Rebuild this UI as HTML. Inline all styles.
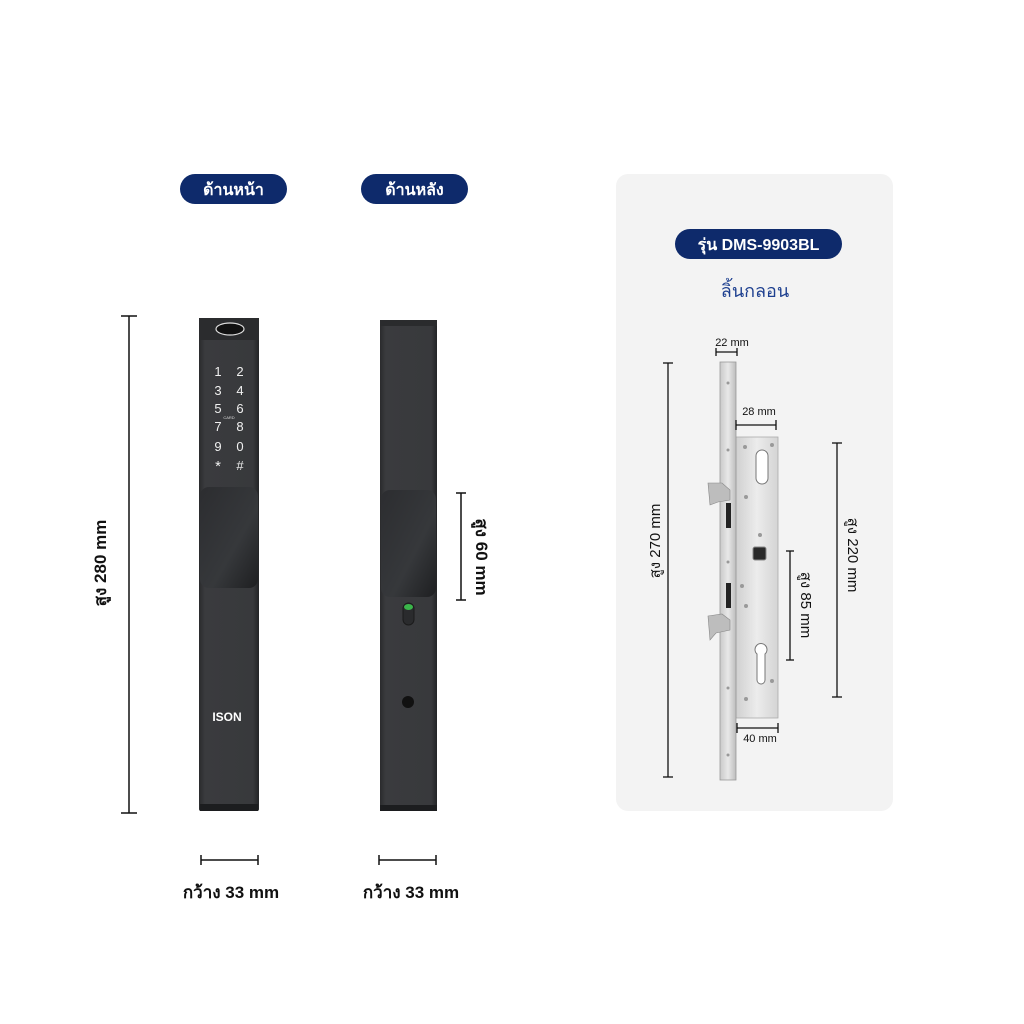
<!DOCTYPE html>
<html><head><meta charset="utf-8"><style>
html,body{margin:0;padding:0;background:#fff;width:1024px;height:1024px;overflow:hidden}
svg{display:block}
text{font-family:"Liberation Sans","DejaVu Sans",sans-serif}
</style></head><body>
<svg width="1024" height="1024" viewBox="0 0 1024 1024" xmlns="http://www.w3.org/2000/svg">
<defs>
<linearGradient id="bd" x1="0" x2="1"><stop offset="0" stop-color="#2a2b2d"/><stop offset="0.1" stop-color="#3a3b3e"/><stop offset="0.9" stop-color="#38393c"/><stop offset="1" stop-color="#232426"/></linearGradient>
<linearGradient id="hd" x1="0" y1="0" x2="1" y2="1"><stop offset="0" stop-color="#2c2d30"/><stop offset="0.6" stop-color="#36383b"/><stop offset="1" stop-color="#1e1f21"/></linearGradient>
<linearGradient id="st" x1="0" x2="1"><stop offset="0" stop-color="#c9c9c9"/><stop offset="0.5" stop-color="#e8e8e8"/><stop offset="1" stop-color="#bdbdbd"/></linearGradient>
<linearGradient id="cs" x1="0" x2="1"><stop offset="0" stop-color="#d0d0d0"/><stop offset="0.5" stop-color="#ececec"/><stop offset="1" stop-color="#d4d4d4"/></linearGradient>
</defs>
<!-- pills -->
<rect x="180" y="174" width="107" height="30" rx="15" fill="#0e2a6b"/>
<text x="233.5" y="195" font-size="16" font-weight="bold" fill="#fff" text-anchor="middle">ด้านหน้า</text>
<rect x="361" y="174" width="107" height="30" rx="15" fill="#0e2a6b"/>
<text x="414.5" y="195" font-size="16" font-weight="bold" fill="#fff" text-anchor="middle">ด้านหลัง</text>

<!-- front lock -->
<rect x="199" y="318" width="60" height="493" rx="2" fill="url(#bd)"/>
<rect x="199" y="318" width="60" height="22" fill="#2b2c2e"/>
<ellipse cx="230" cy="329" rx="14" ry="6" fill="#111" stroke="#ddd" stroke-width="1.2"/>
<g fill="#f0f0f0" font-size="13" text-anchor="middle">
<text x="218" y="376">1</text><text x="240" y="376">2</text>
<text x="218" y="395">3</text><text x="240" y="395">4</text>
<text x="218" y="413">5</text><text x="240" y="413">6</text>
<text x="218" y="431">7</text><text x="240" y="431">8</text>
<text x="218" y="451">9</text><text x="240" y="451">0</text>
<text x="218" y="471" font-size="15">*</text><text x="240" y="470">#</text>
</g>
<text x="229" y="419" font-size="4" fill="#ddd" text-anchor="middle">CARD</text>
<rect x="200" y="487" width="58" height="101" rx="9" fill="url(#hd)"/>
<text x="227" y="721" font-size="12" font-weight="bold" fill="#fff" text-anchor="middle">ISON</text>
<rect x="200" y="804" width="58" height="7" fill="#1c1d1f"/>

<!-- back lock -->
<rect x="380" y="320" width="57" height="491" fill="url(#bd)"/>
<rect x="380" y="320" width="57" height="6" fill="#2a2b2d"/>
<rect x="381" y="490" width="55" height="107" rx="9" fill="url(#hd)"/>
<rect x="403" y="603" width="11" height="22" rx="5.5" fill="#2a2b2d" stroke="#1b1b1b"/>
<ellipse cx="408.5" cy="607" rx="4.5" ry="3" fill="#3ab54a"/>
<circle cx="408" cy="702" r="6" fill="#111"/>
<rect x="380" y="805" width="57" height="6" fill="#1c1d1f"/>

<!-- dimension lines left -->
<g stroke="#111" stroke-width="1.5">
<line x1="129" y1="316" x2="129" y2="813"/><line x1="121" y1="316" x2="137" y2="316"/><line x1="121" y1="813" x2="137" y2="813"/>
<line x1="461" y1="493" x2="461" y2="600"/><line x1="456" y1="493" x2="466" y2="493"/><line x1="456" y1="600" x2="466" y2="600"/>
<line x1="201" y1="860" x2="258" y2="860"/><line x1="201" y1="855" x2="201" y2="865"/><line x1="258" y1="855" x2="258" y2="865"/>
<line x1="379" y1="860" x2="436" y2="860"/><line x1="379" y1="855" x2="379" y2="865"/><line x1="436" y1="855" x2="436" y2="865"/>
</g>
<text transform="translate(106,563) rotate(-90)" font-size="17" font-weight="bold" fill="#111" text-anchor="middle">สูง 280 mm</text>
<text transform="translate(476,557) rotate(90)" font-size="17" font-weight="bold" fill="#111" text-anchor="middle">สูง 60 mm</text>
<text x="231" y="898" font-size="17" font-weight="bold" fill="#111" text-anchor="middle">กว้าง 33 mm</text>
<text x="411" y="898" font-size="17" font-weight="bold" fill="#111" text-anchor="middle">กว้าง 33 mm</text>

<!-- right panel -->
<rect x="616" y="174" width="277" height="637" rx="12" fill="#f3f3f3"/>
<rect x="675" y="229" width="167" height="30" rx="15" fill="#0e2a6b"/>
<text x="758.5" y="250" font-size="16" font-weight="bold" fill="#fff" text-anchor="middle">รุ่น DMS-9903BL</text>
<text x="755" y="297" font-size="18" fill="#1d3f8f" text-anchor="middle">ลิ้นกลอน</text>

<!-- mortise lock -->
<rect x="736" y="437" width="42" height="281" fill="url(#cs)" stroke="#aaa" stroke-width="0.8"/>
<rect x="720" y="362" width="16" height="418" fill="url(#st)" stroke="#999" stroke-width="0.8"/>
<rect x="756" y="450" width="12" height="34" rx="6" fill="#fff" stroke="#777"/>
<rect x="753" y="547" width="13" height="13" rx="2" fill="#2a2a2a" stroke="#888"/>
<path d="M757 654 a6 6 0 1 1 8 0 l0 26 a4 4 0 0 1 -8 0z" fill="#fff" stroke="#777"/>
<rect x="726" y="503" width="5" height="25" fill="#222"/>
<rect x="726" y="583" width="5" height="25" fill="#222"/>
<path d="M708 483 L722 483 L730 490 L730 500 L718 502 L710 505z" fill="#bdbdbd" stroke="#888" stroke-width="0.6"/>
<path d="M708 616 L722 614 L730 620 L730 630 L716 633 L710 640z" fill="#bdbdbd" stroke="#888" stroke-width="0.6"/>
<g fill="#999"><circle cx="745" cy="447" r="2"/><circle cx="772" cy="445" r="2"/><circle cx="746" cy="497" r="2"/><circle cx="760" cy="535" r="2"/><circle cx="742" cy="586" r="2"/><circle cx="746" cy="606" r="2"/><circle cx="772" cy="681" r="2"/><circle cx="746" cy="699" r="2"/><circle cx="728" cy="383" r="1.5"/><circle cx="728" cy="450" r="1.5"/><circle cx="728" cy="562" r="1.5"/><circle cx="728" cy="688" r="1.5"/><circle cx="728" cy="755" r="1.5"/></g>
<g stroke="#111" stroke-width="1.3">
<line x1="716" y1="352" x2="737" y2="352"/><line x1="716" y1="348" x2="716" y2="356"/><line x1="737" y1="348" x2="737" y2="356"/>
<line x1="736" y1="425" x2="776" y2="425"/><line x1="736" y1="420" x2="736" y2="430"/><line x1="776" y1="420" x2="776" y2="430"/>
<line x1="737" y1="728" x2="778" y2="728"/><line x1="737" y1="723" x2="737" y2="733"/><line x1="778" y1="723" x2="778" y2="733"/>
<line x1="668" y1="363" x2="668" y2="777"/><line x1="663" y1="363" x2="673" y2="363"/><line x1="663" y1="777" x2="673" y2="777"/>
<line x1="837" y1="443" x2="837" y2="697"/><line x1="832" y1="443" x2="842" y2="443"/><line x1="832" y1="697" x2="842" y2="697"/>
<line x1="790" y1="551" x2="790" y2="660"/><line x1="786" y1="551" x2="794" y2="551"/><line x1="786" y1="660" x2="794" y2="660"/>
</g>
<g font-size="11" fill="#111" text-anchor="middle">
<text x="732" y="346">22 mm</text><text x="759" y="415">28 mm</text><text x="760" y="742">40 mm</text>
</g>
<text transform="translate(660,541) rotate(-90)" font-size="15" fill="#111" text-anchor="middle">สูง 270 mm</text>
<text transform="translate(848,555) rotate(90)" font-size="15" fill="#111" text-anchor="middle">สูง 220 mm</text>
<text transform="translate(801,605) rotate(90)" font-size="15" fill="#111" text-anchor="middle">สูง 85 mm</text>
</svg>
</body></html>
